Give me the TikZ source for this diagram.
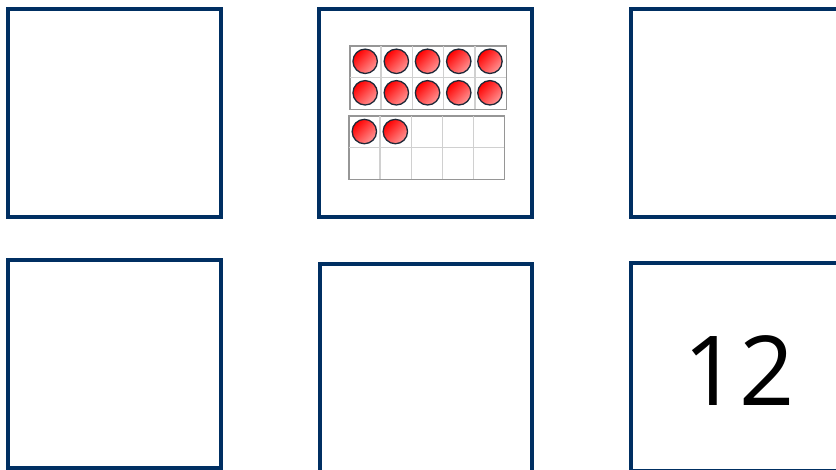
\documentclass[tikz,border=0pt]{standalone}
\usepackage{fontspec}
\newfontfamily\numfont{Open Sans}
\usetikzlibrary{calc}
\definecolor{navy}{RGB}{0,47,98}
\definecolor{gridout}{RGB}{150,150,150}
\definecolor{gridin}{RGB}{208,208,208}
\definecolor{pinkred}{RGB}{255,150,150}
\definecolor{rim}{RGB}{30,40,55}
\begin{document}
\begin{tikzpicture}[x=1pt,y=-1pt,
  box/.style={draw=navy, line width=4pt, rectangle, inner sep=0pt, minimum width=212.6pt, minimum height=208pt},
  tframe/.style={draw=gridout, line width=0.9pt, rectangle, inner sep=0pt, minimum width=156pt, minimum height=63pt},
  cellline/.style={draw=gridin, line width=1.2pt},
  counter/.style={circle, draw=rim, line width=1.3pt, minimum size=24.4pt, inner sep=0pt, top color=red, bottom color=pinkred, shading angle=45}]
\useasboundingbox (0,0) rectangle (836,470);
\fill[white] (0,0) rectangle (836,470);
\clip (0,0) rectangle (836,470);

% boxes
\node[box] (b1) at (114.35,113) {};
\node[box] (b2) at (425.5,113) {};
\node[box] (b3) at (737.3,113) {};
\node[box, minimum height=207.5pt] (b4) at (114.35,363.75) {};
\node[box] (b5) at (426,368) {};
\node[box] (b6) at (737.3,367) {};

% ten frames
\node[tframe] (tf1) at (428,77.5) {};
\node[tframe, minimum width=155pt, minimum height=62.7pt] (tf2) at (426.8,147.65) {};
\foreach \f in {tf1,tf2}{
  \foreach \k in {0.2,0.4,0.6,0.8}{
    \draw[cellline] ($(\f.north west)!\k!(\f.north east)+(0,0.6)$) -- ($(\f.south west)!\k!(\f.south east)+(0,-0.6)$);
  }
  \draw[cellline] ($(\f.west)+(0.6,0)$) -- ($(\f.east)+(-0.6,0)$);
  \draw[gridout, line width=0.9pt] (\f.north west) rectangle (\f.south east);
}

% counters
\foreach \i in {1,...,5}{
  \node[counter] (ca\i) at ($(tf1.north west)+({(\i-0.5)*31.2},15.75)$) {};
  \node[counter] (cb\i) at ($(tf1.north west)+({(\i-0.5)*31.2},47.25)$) {};
}
\foreach \i in {1,2}{
  \node[counter] (cc\i) at ($(tf2.north west)+({(\i-0.5)*31},15.7)$) {};
}

% number
\node[anchor=base, inner sep=0pt, font=\numfont\fontsize{96.6}{100}\selectfont] (n12) at (739,406) {12};
\end{tikzpicture}
\end{document}
